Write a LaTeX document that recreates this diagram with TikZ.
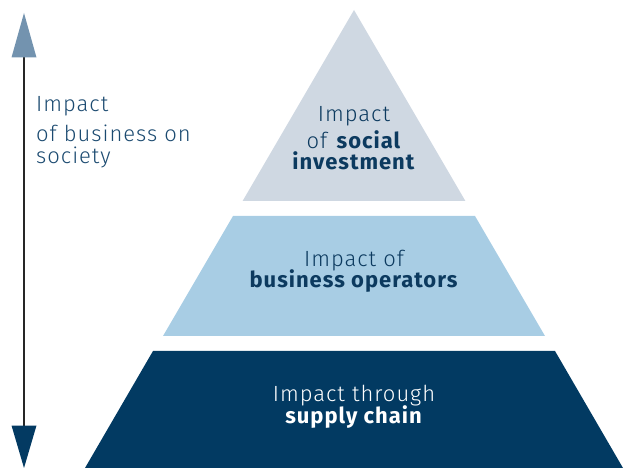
\documentclass[tikz,border=0pt]{standalone}
\usepackage{fontspec}
\setmainfont{Fira Sans}[UprightFont={* Light},BoldFont={* Bold},LetterSpace=4.5]
\definecolor{lvlTop}{HTML}{CFD8E2}
\definecolor{lvlMid}{HTML}{A8CDE4}
\definecolor{lvlBot}{HTML}{023A62}
\definecolor{txtDark}{HTML}{0C3A5F}
\definecolor{txtLeft}{HTML}{1B4A70}
\definecolor{headTop}{HTML}{7393AF}
\definecolor{headBot}{HTML}{033A62}
\tikzset{
  lbl/.style={inner sep=0pt, font=\fontsize{22}{26}\selectfont, anchor=base,
    text height=15pt, text depth=3.5pt},
  lbldark/.style={lbl, text=txtDark},
  lbllight/.style={lbl, text=white},
  lblleft/.style={lbl, text=txtLeft, anchor=base west},
}
\begin{document}
\begin{tikzpicture}[x=1pt,y=-1pt]
\useasboundingbox (0,0) rectangle (625,468);
% levels
\coordinate (apex) at (354,10);
\fill[lvlTop] (apex) -- (465.4,201) -- (242.6,201) -- cycle;
\fill[lvlMid] (233,216) -- (475,216) -- (545,336) -- (163,336) -- cycle;
\fill[lvlBot] (153,351) -- (555,351) -- (623,468) -- (85,468) -- cycle;
% axis arrow
\coordinate (axTop) at (24,57);
\coordinate (axBot) at (24,426);
\draw[line width=1.4pt, color=black!85] (axTop) -- (axBot);
\fill[headTop] (24,13) -- (36.5,57.5) -- (11.5,57.5) -- cycle;
\fill[headBot] (11.5,425.5) -- (36.5,425.5) -- (24,468) -- cycle;
% left label
\node[lblleft] (l1) at (36,112) {Impact};
\node[lblleft] (l2) at (36,142) {of business on};
\node[lblleft] (l3) at (36,164) {society};
% top level text
\node[lbldark] (t1) at (354,122) {Impact};
\node[lbldark] (t2) at (354,149) {of \textbf{social}};
\node[lbldark] (t3) at (354,170) {\textbf{investment}};
% middle level text
\node[lbldark] (m1) at (354,267) {Impact of};
\node[lbldark] (m2) at (354,288) {\textbf{business operators}};
% bottom level text
\node[lbllight] (b1) at (354,402) {Impact through};
\node[lbllight] (b2) at (354,424) {\textbf{supply chain}};
\end{tikzpicture}
\end{document}
